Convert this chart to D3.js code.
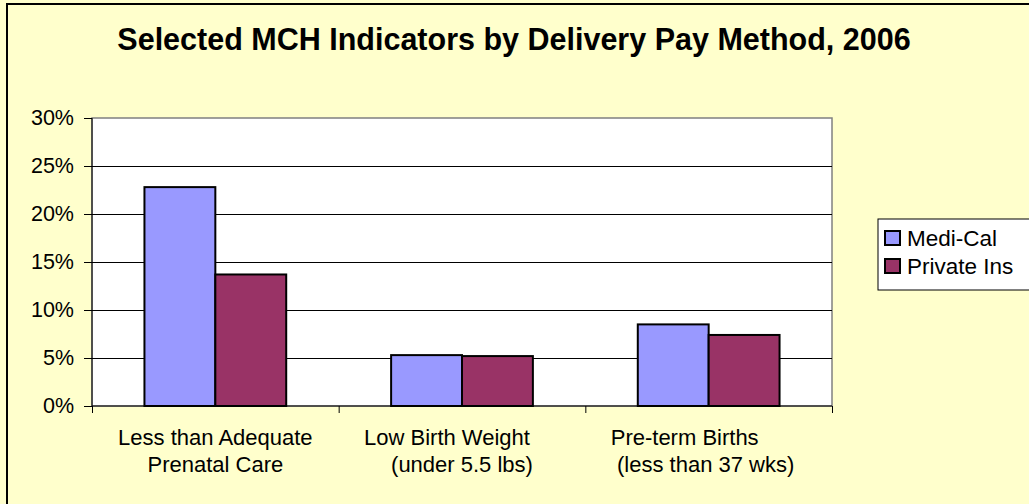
<!DOCTYPE html>
<html>
<head>
<meta charset="utf-8">
<script src="https://cdn.jsdelivr.net/npm/d3@7"></script>
<style>
  body { margin: 0; background: #FFFFCC; }
  svg { display: block; font-family: "Liberation Sans", Arial, sans-serif; }
</style>
</head>
<body>
<div id="chart-area"></div>
<script>
// data
var title = "Selected MCH Indicators by Delivery Pay Method, 2006";
var categories = ["Less than Adequate Prenatal Care", "Low Birth Weight (under 5.5 lbs)", "Pre-term Births (less than 37 wks)"];
var categoryLines = [
    ["Less than Adequate", "Prenatal Care"],
    ["Low Birth Weight", "(under 5.5 lbs)"],
    ["Pre-term Births", "(less than 37 wks)"]
];
var series = ["Medi-Cal", "Private Ins"];
var mediCal = [0.228, 0.053, 0.085];
var privateIns = [0.137, 0.052, 0.074];
var yTicks = [0, 0.05, 0.10, 0.15, 0.20, 0.25, 0.30];

var colors = {"Medi-Cal": "#9999FF", "Private Ins": "#993366"};

var W = 1029, H = 504;
var plot = {left: 92, right: 832, top: 118, bottom: 406};

var svg = d3.select("#chart-area").append("svg")
    .attr("width", W)
    .attr("height", H);

// chart background + outer border (runs off the right/bottom edge)
svg.append("rect")
    .attr("x", 7).attr("y", 4)
    .attr("width", W + 20).attr("height", H + 20)
    .attr("fill", "#FFFFCC")
    .attr("stroke", "#000")
    .attr("stroke-width", 2);

// title
svg.append("text")
    .attr("x", 514)
    .attr("y", 50)
    .attr("text-anchor", "middle")
    .attr("font-size", "30.5px")
    .attr("font-weight", "bold")
    .text(title);

// scales
var x0 = d3.scaleBand()
    .domain(categories)
    .range([plot.left, plot.right])
    .paddingInner(0)
    .paddingOuter(0);

var x1 = d3.scaleBand()
    .domain(series)
    .range([0, x0.bandwidth()])
    .paddingInner(0)
    .paddingOuter(0.74);

var y = d3.scaleLinear()
    .domain([0, 0.30])
    .range([plot.bottom, plot.top]);

// plot area
svg.append("rect")
    .attr("x", plot.left).attr("y", plot.top)
    .attr("width", plot.right - plot.left)
    .attr("height", plot.bottom - plot.top)
    .attr("fill", "#fff")
    .attr("stroke", "#808080")
    .attr("stroke-width", 1.5);

// gridlines
svg.append("g")
    .selectAll("line")
    .data(yTicks.filter(function(d){ return d > 0 && d < 0.30; }))
    .enter().append("line")
    .attr("x1", plot.left).attr("x2", plot.right)
    .attr("y1", function(d){ return Math.round(y(d)) + 0.5; })
    .attr("y2", function(d){ return Math.round(y(d)) + 0.5; })
    .attr("stroke", "#000")
    .attr("stroke-width", 1);

// bars
var rows = categories.map(function(c, i){
    return [
        {cat: c, key: "Medi-Cal", value: mediCal[i]},
        {cat: c, key: "Private Ins", value: privateIns[i]}
    ];
});

var groups = svg.append("g").selectAll("g")
    .data(rows)
    .enter().append("g")
    .attr("transform", function(d){ return "translate(" + x0(d[0].cat) + ",0)"; });

groups.selectAll("rect")
    .data(function(d){ return d; })
    .enter().append("rect")
    .attr("x", function(d){ return x1(d.key); })
    .attr("y", function(d){ return y(d.value); })
    .attr("width", x1.bandwidth())
    .attr("height", function(d){ return y(0) - y(d.value); })
    .attr("fill", function(d){ return colors[d.key]; })
    .attr("stroke", "#000")
    .attr("stroke-width", 2);

// y axis
var yAxisCall = d3.axisLeft(y)
    .tickValues(yTicks)
    .tickSize(8)
    .tickPadding(10)
    .tickFormat(d3.format(".0%"));

var yAxis = svg.append("g")
    .attr("transform", "translate(" + plot.left + ",0)")
    .call(yAxisCall);
yAxis.selectAll("text")
    .attr("font-size", "21.5px")
    .attr("fill", "#000")
    .attr("font-family", "Liberation Sans, Arial, sans-serif");
yAxis.selectAll("line").attr("stroke", "#000");
yAxis.select(".domain").attr("stroke", "#000").attr("d", "M0," + plot.top + "V" + plot.bottom);

// x axis: ticks sit on category boundaries
var xEdges = d3.scaleLinear().domain([0, categories.length]).range([plot.left, plot.right]);
var xAxisCall = d3.axisBottom(xEdges)
    .tickValues(d3.range(categories.length + 1))
    .tickSize(7)
    .tickFormat("");

var xAxis = svg.append("g")
    .attr("transform", "translate(0," + plot.bottom + ")")
    .call(xAxisCall);
xAxis.selectAll("line").attr("stroke", "#000");
xAxis.select(".domain").attr("stroke", "#000").attr("d", "M" + plot.left + ",0H" + plot.right);

// category labels (two lines each, the way the original wraps them)
var lineShift = [[0, 0], [-15, 0], [-24, -3]];
var labels = svg.append("g").selectAll("text")
    .data(categoryLines)
    .enter().append("text")
    .attr("font-size", "22px")
    .attr("text-anchor", "middle");

labels.each(function(lines, i){
    var cx = x0(categories[i]) + x0.bandwidth() / 2;
    d3.select(this).selectAll("tspan")
        .data(lines)
        .enter().append("tspan")
        .attr("x", function(d, j){ return cx + lineShift[i][j]; })
        .attr("y", function(d, j){ return 445 + j * 27; })
        .text(function(d){ return d; });
});

// legend
var legend = svg.append("g")
    .attr("transform", "translate(878,219)");

legend.append("rect")
    .attr("width", 160)
    .attr("height", 71)
    .attr("fill", "#fff")
    .attr("stroke", "#000")
    .attr("stroke-width", 1);

var item = legend.selectAll(".item")
    .data(series)
    .enter().append("g")
    .attr("class", "item")
    .attr("transform", function(d, i){ return "translate(7," + (19 + i * 28) + ")"; });

item.append("rect")
    .attr("x", 0).attr("y", -7)
    .attr("width", 15).attr("height", 14)
    .attr("fill", function(d){ return colors[d]; })
    .attr("stroke", "#000")
    .attr("stroke-width", 2);

item.append("text")
    .attr("x", 22)
    .attr("dy", "0.36em")
    .attr("font-size", "22.5px")
    .text(function(d){ return d; });
</script>
</body>
</html>
